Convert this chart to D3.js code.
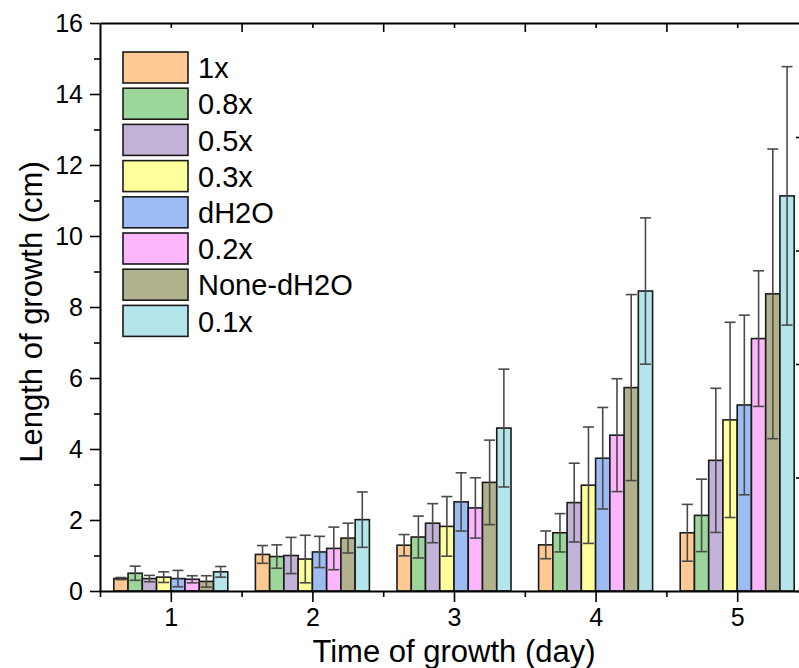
<!DOCTYPE html>
<html>
<head>
<meta charset="utf-8">
<script src="https://cdnjs.cloudflare.com/ajax/libs/d3/7.8.5/d3.min.js"></script>
<style>
  body { margin: 0; background: #fff; }
  text { font-family: Arial, "Liberation Sans", sans-serif; fill: #000; }
</style>
</head>
<body>
<div id="chart"></div>
<script>
// Chart data
const days = [1, 2, 3, 4, 5];
const seriesNames = ["1x", "0.8x", "0.5x", "0.3x", "dH2O", "0.2x", "None-dH2O", "0.1x"];
const seriesColors = ["#ffc993", "#9dd69b", "#c3b3d8", "#ffff9c", "#9dbcf4", "#fdb6fc", "#b2b18e", "#b4e5ea"];

// mean growth (cm) per series, one value per day
const mean1x = [0.35, 1.03, 1.29, 1.30, 1.64];
const mean08x = [0.50, 0.97, 1.52, 1.64, 2.13];
const mean05x = [0.35, 1.00, 1.91, 2.49, 3.68];
const mean03x = [0.39, 0.90, 1.82, 2.98, 4.82];
const meanDH2O = [0.35, 1.10, 2.51, 3.74, 5.24];
const mean02x = [0.33, 1.20, 2.34, 4.39, 7.11];
const meanNone = [0.27, 1.49, 3.06, 5.73, 8.37];
const mean01x = [0.54, 2.01, 4.59, 8.45, 11.13];

// error (sd) per series, one value per day
const err1x = [0.03, 0.25, 0.30, 0.39, 0.80];
const err08x = [0.20, 0.33, 0.59, 0.54, 1.02];
const err05x = [0.09, 0.51, 0.55, 1.11, 2.03];
const err03x = [0.15, 0.67, 0.84, 1.64, 2.75];
const errDH2O = [0.23, 0.44, 0.82, 1.43, 2.53];
const err02x = [0.10, 0.60, 0.85, 1.59, 1.91];
const errNone = [0.16, 0.42, 1.19, 2.62, 4.08];
const err01x = [0.15, 0.78, 1.66, 2.06, 3.64];

const yTicks = [0, 2, 4, 6, 8, 10, 12, 14, 16];

const means = [mean1x, mean08x, mean05x, mean03x, meanDH2O, mean02x, meanNone, mean01x];
const errs = [err1x, err08x, err05x, err03x, errDH2O, err02x, errNone, err01x];

// flatten into bar records
let bardata = [];
days.forEach((day, di) => {
  seriesNames.forEach((s, si) => {
    bardata.push({ day: day, key: s, idx: si, value: means[si][di], err: errs[si][di] });
  });
});

const width = 799,
  height = 668;

const svg = d3
  .select("#chart")
  .append("svg")
  .attr("width", width)
  .attr("height", height);

// Scales
const x = d3.scaleLinear().domain([0.5, 5.5]).range([100, 808]);
const y = d3.scaleLinear().domain([0, 16]).range([591, 23]);

const groupWidth = 0.805;
const band = d3
  .scaleBand()
  .domain(seriesNames)
  .range([-groupWidth / 2, groupWidth / 2])
  .padding(0);

const color = d3.scaleOrdinal().domain(seriesNames).range(seriesColors);

// Bars
svg
  .selectAll(".bar")
  .data(bardata)
  .enter()
  .append("rect")
  .attr("class", "bar")
  .attr("x", (d) => x(d.day + band(d.key)))
  .attr("y", (d) => y(d.value))
  .attr("width", (d) => x(d.day + band(d.key) + band.bandwidth()) - x(d.day + band(d.key)))
  .attr("height", (d) => y(0) - y(d.value))
  .attr("fill", (d) => color(d.key))
  .attr("stroke", "#1a1a1a")
  .attr("stroke-width", 1.6);

// Error bars
const capHalf = 5.5;
const errG = svg
  .selectAll(".err")
  .data(bardata)
  .enter()
  .append("g")
  .attr("class", "err")
  .attr("stroke", "#4a4a4a")
  .attr("stroke-width", 1.6);

const cx = (d) => x(d.day + band(d.key) + band.bandwidth() / 2);

errG
  .append("line")
  .attr("x1", cx)
  .attr("x2", cx)
  .attr("y1", (d) => y(Math.max(0, d.value - d.err)))
  .attr("y2", (d) => y(d.value + d.err));

errG
  .append("line")
  .attr("x1", (d) => cx(d) - capHalf)
  .attr("x2", (d) => cx(d) + capHalf)
  .attr("y1", (d) => y(d.value + d.err))
  .attr("y2", (d) => y(d.value + d.err));

errG
  .append("line")
  .attr("x1", (d) => cx(d) - capHalf)
  .attr("x2", (d) => cx(d) + capHalf)
  .attr("y1", (d) => y(Math.max(0, d.value - d.err)))
  .attr("y2", (d) => y(Math.max(0, d.value - d.err)));

// Y axis (left), minor ticks first
const yMinor = d3.range(1, 16, 2);
svg
  .append("g")
  .attr("transform", `translate(${x(0.5)},0)`)
  .call(d3.axisLeft(y).tickValues(yMinor).tickSize(6).tickFormat(""))
  .call((g) => g.select(".domain").remove())
  .selectAll("line")
  .attr("stroke-width", 1.6);

svg
  .append("g")
  .attr("transform", `translate(${x(0.5)},0)`)
  .call(d3.axisLeft(y).tickValues(yTicks).tickSize(10).tickSizeOuter(0).tickPadding(7))
  .call((g) => g.select(".domain").attr("stroke-width", 2))
  .call((g) => g.selectAll("line").attr("stroke-width", 1.6))
  .selectAll("text")
  .style("font-size", "25px")
  .attr("dy", "0.35em");

// X axis (bottom)
svg
  .append("g")
  .attr("transform", `translate(0,${y(0)})`)
  .call(d3.axisBottom(x).tickValues([0.5, 1.5, 2.5, 3.5, 4.5, 5.5]).tickSize(6).tickFormat(""))
  .call((g) => g.select(".domain").remove())
  .selectAll("line")
  .attr("stroke-width", 1.6);

svg
  .append("g")
  .attr("transform", `translate(0,${y(0)})`)
  .call(d3.axisBottom(x).tickValues(days).tickSize(11).tickSizeOuter(0).tickPadding(6).tickFormat(d3.format("d")))
  .call((g) => g.select(".domain").attr("stroke-width", 2))
  .call((g) => g.selectAll("line").attr("stroke-width", 1.6))
  .selectAll("text")
  .style("font-size", "25px");

// Top axis, ticks point inward
svg
  .append("g")
  .attr("transform", `translate(0,${y(16)})`)
  .call(d3.axisBottom(x).tickValues(days).tickSize(5).tickFormat("").tickSizeOuter(0))
  .call((g) => g.select(".domain").attr("stroke-width", 2))
  .selectAll("line")
  .attr("stroke-width", 1.6);

svg
  .append("g")
  .attr("transform", `translate(0,${y(16)})`)
  .call(d3.axisBottom(x).tickValues([1.5, 2.5, 3.5, 4.5]).tickSize(9).tickFormat(""))
  .call((g) => g.select(".domain").remove())
  .selectAll("line")
  .attr("stroke-width", 1.6);

// stray tick marks of the neighbouring panel at the right edge
const sideScale = d3.scaleLinear().domain([0, 4]).range([591, 137]);
svg
  .append("g")
  .attr("transform", "translate(800,0)")
  .call(d3.axisLeft(sideScale).ticks(4).tickSize(4).tickFormat(""))
  .call((g) => g.select(".domain").remove())
  .selectAll("line")
  .attr("stroke-width", 1.6);

// Axis titles
svg
  .append("text")
  .attr("x", x(3))
  .attr("y", 662)
  .style("text-anchor", "middle")
  .style("font-size", "31px")
  .text("Time of growth (day)");

svg
  .append("text")
  .attr("transform", `translate(42,312) rotate(-90)`)
  .style("text-anchor", "middle")
  .style("font-size", "31px")
  .text("Length of growth (cm)");

// Legend
const legend = svg
  .selectAll(".legend")
  .data(seriesNames)
  .enter()
  .append("g")
  .attr("class", "legend")
  .attr("transform", (d, i) => `translate(123,${52 + i * 36.2})`);

legend
  .append("rect")
  .attr("width", 65)
  .attr("height", 31)
  .attr("fill", (d) => color(d))
  .attr("stroke", "#1a1a1a")
  .attr("stroke-width", 1.6);

legend
  .append("text")
  .attr("x", 75)
  .attr("y", 16)
  .attr("dy", "0.35em")
  .style("font-size", "29px")
  .text((d) => d);
</script>
</body>
</html>
